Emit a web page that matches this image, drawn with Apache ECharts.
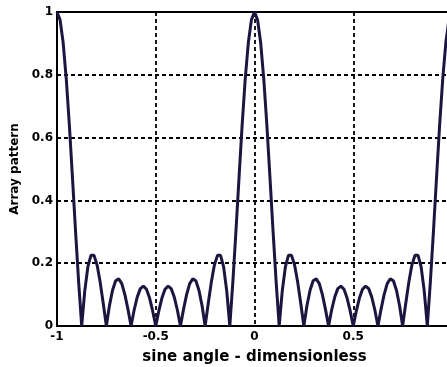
<!DOCTYPE html>
<html>
<head>
<meta charset="utf-8">
<script src="https://cdn.jsdelivr.net/npm/echarts@6/dist/echarts.min.js"></script>
<style>
html,body{margin:0;padding:0;background:#fff;}
#chart{width:447px;height:367px;}
</style>
</head>
<body>
<div id="chart"></div>
<script>
// sine angle (dimensionless) sample positions
var sineAngle = [
 -1, -0.9844, -0.9688, -0.9531, -0.9375, -0.9219, -0.9063, -0.8906, -0.875, -0.8594, -0.8438, -0.8281, -0.8125, -0.7969, -0.7813, -0.7656,
 -0.75, -0.7344, -0.7188, -0.7031, -0.6875, -0.6719, -0.6563, -0.6406, -0.625, -0.6094, -0.5938, -0.5781, -0.5625, -0.5469, -0.5313, -0.5156,
 -0.5, -0.4844, -0.4688, -0.4531, -0.4375, -0.4219, -0.4063, -0.3906, -0.375, -0.3594, -0.3438, -0.3281, -0.3125, -0.2969, -0.2813, -0.2656,
 -0.25, -0.2344, -0.2188, -0.2031, -0.1875, -0.1719, -0.1563, -0.1406, -0.125, -0.1094, -0.0938, -0.0781, -0.0625, -0.0469, -0.0313, -0.0156,
 0, 0.0156, 0.0313, 0.0469, 0.0625, 0.0781, 0.0938, 0.1094, 0.125, 0.1406, 0.1563, 0.1719, 0.1875, 0.2031, 0.2188, 0.2344,
 0.25, 0.2656, 0.2813, 0.2969, 0.3125, 0.3281, 0.3438, 0.3594, 0.375, 0.3906, 0.4063, 0.4219, 0.4375, 0.4531, 0.4688, 0.4844,
 0.5, 0.5156, 0.5313, 0.5469, 0.5625, 0.5781, 0.5938, 0.6094, 0.625, 0.6406, 0.6563, 0.6719, 0.6875, 0.7031, 0.7188, 0.7344,
 0.75, 0.7656, 0.7813, 0.7969, 0.8125, 0.8281, 0.8438, 0.8594, 0.875, 0.8906, 0.9063, 0.9219, 0.9375, 0.9531, 0.9688, 0.9844,
 1
];
// array pattern values at those positions
var arrayPattern = [
 1, 0.975, 0.902, 0.787, 0.641, 0.475, 0.304, 0.142, 0, 0.112, 0.188, 0.225, 0.225, 0.194, 0.139, 0.071,
 0, 0.065, 0.114, 0.144, 0.150, 0.135, 0.100, 0.053, 0, 0.051, 0.092, 0.119, 0.127, 0.117, 0.089, 0.048,
 0, 0.048, 0.089, 0.117, 0.127, 0.119, 0.092, 0.051, 0, 0.053, 0.100, 0.135, 0.150, 0.144, 0.114, 0.065,
 0, 0.071, 0.139, 0.194, 0.225, 0.225, 0.188, 0.112, 0, 0.142, 0.304, 0.475, 0.641, 0.787, 0.902, 0.975,
 1, 0.975, 0.902, 0.787, 0.641, 0.475, 0.304, 0.142, 0, 0.112, 0.188, 0.225, 0.225, 0.194, 0.139, 0.071,
 0, 0.065, 0.114, 0.144, 0.150, 0.135, 0.100, 0.053, 0, 0.051, 0.092, 0.119, 0.127, 0.117, 0.089, 0.048,
 0, 0.048, 0.089, 0.117, 0.127, 0.119, 0.092, 0.051, 0, 0.053, 0.100, 0.135, 0.150, 0.144, 0.114, 0.065,
 0, 0.071, 0.139, 0.194, 0.225, 0.225, 0.188, 0.112, 0, 0.142, 0.304, 0.475, 0.641, 0.787, 0.902, 0.975,
 1
];
var xTicks = [-1, -0.5, 0, 0.5, 1];
var yTicks = [0, 0.2, 0.4, 0.6, 0.8, 1];

var seriesData = sineAngle.map(function (u, i) { return [u, arrayPattern[i]]; });
var fontFam = 'DejaVu Sans, Liberation Sans, sans-serif';

var chart = echarts.init(document.getElementById('chart'), null, {renderer: 'canvas'});
chart.setOption({
  backgroundColor: '#ffffff',
  animation: false,
  grid: {
    left: 57, right: -5, top: 12, bottom: 41,
    show: true, borderColor: '#000', borderWidth: 2,
    outerBoundsMode: 'none'
  },
  xAxis: {
    type: 'value',
    min: xTicks[0], max: xTicks[xTicks.length - 1], interval: 0.5,
    name: 'sine angle - dimensionless',
    nameLocation: 'middle', nameGap: 24,
    nameTextStyle: {color: '#000', fontWeight: 'bold', fontSize: 15, fontFamily: fontFam},
    axisLine: {show: false},
    axisTick: {show: false},
    axisLabel: {color: '#000', fontWeight: 'bold', fontSize: 12, fontFamily: fontFam, margin: 5},
    splitLine: {show: true, lineStyle: {color: '#000', width: 1.8, type: [4, 3]}}
  },
  yAxis: {
    type: 'value',
    min: yTicks[0], max: yTicks[yTicks.length - 1], interval: 0.2,
    name: 'Array pattern',
    nameLocation: 'middle', nameGap: 34,
    nameTextStyle: {color: '#000', fontWeight: 'bold', fontSize: 12, fontFamily: fontFam},
    axisLine: {show: false},
    axisTick: {show: false},
    axisLabel: {color: '#000', fontWeight: 'bold', fontSize: 12, fontFamily: fontFam, margin: 4,
      formatter: function (v) { return String(Math.round(v * 10) / 10); }},
    splitLine: {show: true, lineStyle: {color: '#000', width: 1.8, type: [4, 3]}}
  },
  series: [{
    type: 'line',
    data: seriesData,
    showSymbol: false,
    clip: true,
    lineStyle: {color: '#1c1540', width: 3},
    z: 3
  }]
});
</script>
</body>
</html>
